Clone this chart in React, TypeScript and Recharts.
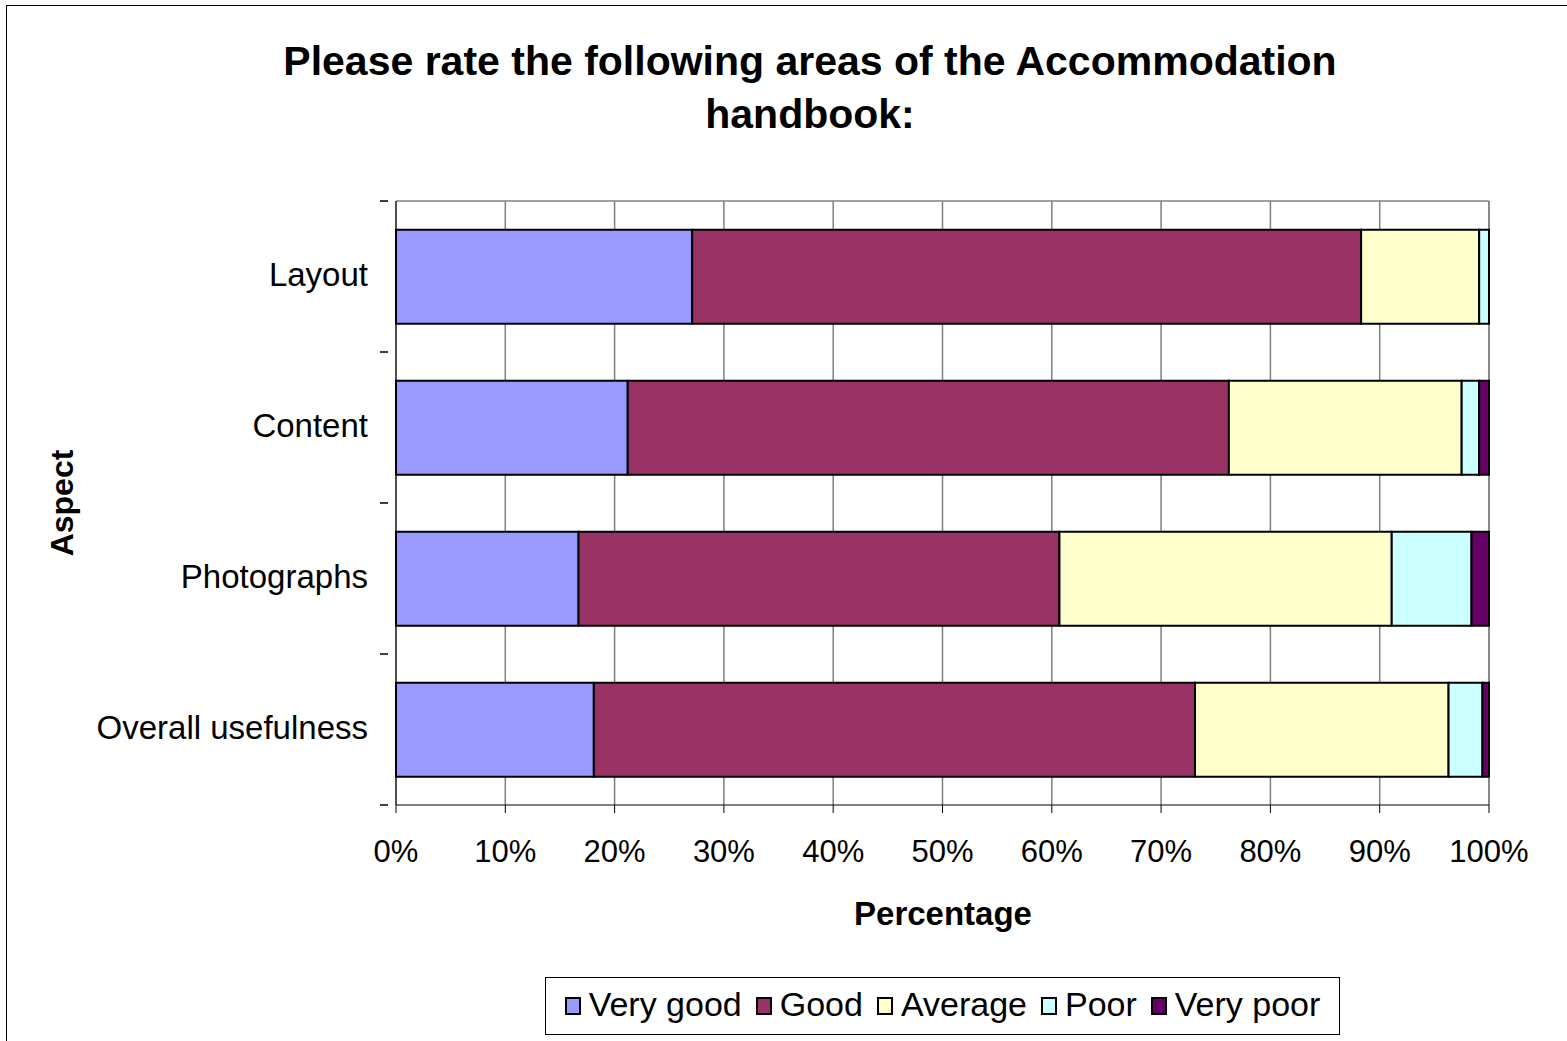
import React from 'react';
import { BarChart, Bar, XAxis, YAxis, CartesianGrid } from 'recharts';

const aspects = ['Layout', 'Content', 'Photographs', 'Overall usefulness'];
const veryGood = [27.1, 21.2, 16.7, 18.1];
const good = [61.2, 55.0, 44.0, 55.0];
const average = [10.8, 21.3, 30.4, 23.2];
const poor = [0.9, 1.6, 7.3, 3.1];
const veryPoor = [0, 0.9, 1.6, 0.6];
const percentTicks = [0, 10, 20, 30, 40, 50, 60, 70, 80, 90, 100];

const series = [
  { key: 'veryGood', name: 'Very good', color: '#9999FF' },
  { key: 'good', name: 'Good', color: '#993366' },
  { key: 'average', name: 'Average', color: '#FFFFCC' },
  { key: 'poor', name: 'Poor', color: '#CCFFFF' },
  { key: 'veryPoor', name: 'Very poor', color: '#660066' },
];

const data = aspects.map((aspect, i) => ({
  aspect,
  veryGood: veryGood[i],
  good: good[i],
  average: average[i],
  poor: poor[i],
  veryPoor: veryPoor[i],
}));

const W = 1567;
const H = 1041;
const FONT = '"Liberation Sans", Arial, sans-serif';
const MARGIN = { top: 201, right: 78, bottom: 176, left: 0 };
const X_AXIS_H = 60;
const Y_AXIS_W = 396;
const PLOT_H = H - MARGIN.top - MARGIN.bottom - X_AXIS_H;
const BAND = PLOT_H / aspects.length;

function AspectTick(props: any) {
  const { x, y, payload, index } = props;
  return (
    <g>
      <line x1={x - 8} x2={x} y1={Math.round(y - BAND / 2)} y2={Math.round(y - BAND / 2)} stroke="#000" strokeWidth={1.5} />
      {index === aspects.length - 1 && (
        <line x1={x - 8} x2={x} y1={Math.round(y + BAND / 2)} y2={Math.round(y + BAND / 2)} stroke="#000" strokeWidth={1.5} />
      )}
      <text x={x - 20} y={y - 2} textAnchor="end" dominantBaseline="central" fontSize={33} fill="#000" fontFamily={FONT}>
        {payload.value}
      </text>
    </g>
  );
}

export default function App() {
  return (
    <div style={{ position: 'absolute', left: 0, top: 0, width: W, height: H, overflow: 'hidden', background: '#fff', fontFamily: FONT }}>
      <div style={{ position: 'absolute', left: 6, top: 5, width: W + 100, height: H + 100, border: '1px solid #000', boxSizing: 'border-box' }} />
      <div style={{ position: 'absolute', left: 0, top: 35, width: 1620, textAlign: 'center', fontWeight: 'bold', fontSize: 41, lineHeight: '53px', color: '#000' }}>
        Please rate the following areas of the Accommodation
        <br />
        handbook:
      </div>
      <div style={{ position: 'absolute', left: 0, top: 0 }}>
        <BarChart
          width={W}
          height={H}
          data={data}
          layout="vertical"
          margin={MARGIN}
          barCategoryGap="19%"
        >
          <CartesianGrid
            horizontal={true}
            vertical={true}
            stroke="#808080"
            strokeWidth={1.5}
            horizontalCoordinatesGenerator={({ offset }: any) => [offset.top]}
          />
          <XAxis
            type="number"
            domain={[0, 100]}
            ticks={percentTicks}
            tickFormatter={(v: number) => `${v}%`}
            interval={0}
            height={X_AXIS_H}
            tickSize={8}
            tickMargin={27}
            stroke="#000"
            tick={{ fontSize: 31, fill: '#000', fontFamily: FONT }}
          />
          <YAxis
            type="category"
            dataKey="aspect"
            width={Y_AXIS_W}
            tickLine={false}
            stroke="#000"
            tick={<AspectTick />}
            interval={0}
          />
          {series.map((s) => (
            <Bar
              key={s.key}
              dataKey={s.key}
              name={s.name}
              stackId="a"
              fill={s.color}
              stroke="#000"
              strokeWidth={2}
              isAnimationActive={false}
            />
          ))}
        </BarChart>
      </div>
      <div style={{ position: 'absolute', left: 743, top: 895, width: 400, textAlign: 'center', fontWeight: 'bold', fontSize: 33, color: '#000' }}>
        Percentage
      </div>
      <div style={{ position: 'absolute', left: 62, top: 503, transform: 'translate(-50%, -50%) rotate(-90deg)', fontWeight: 'bold', fontSize: 32, color: '#000', whiteSpace: 'nowrap' }}>
        Aspect
      </div>
      <div style={{ position: 'absolute', left: 545, top: 977, width: 795, height: 58, border: '1px solid #000', boxSizing: 'border-box', display: 'flex', alignItems: 'center', justifyContent: 'center', gap: 14, paddingBottom: 5 }}>
        {series.map((s) => (
          <div key={s.key} style={{ display: 'flex', alignItems: 'center', gap: 8, fontSize: 34, lineHeight: '40px', color: '#000' }}>
            <span style={{ display: 'inline-block', width: 16, height: 18, background: s.color, border: '2px solid #000', boxSizing: 'border-box', marginTop: 4 }} />
            <span>{s.name}</span>
          </div>
        ))}
      </div>
    </div>
  );
}
